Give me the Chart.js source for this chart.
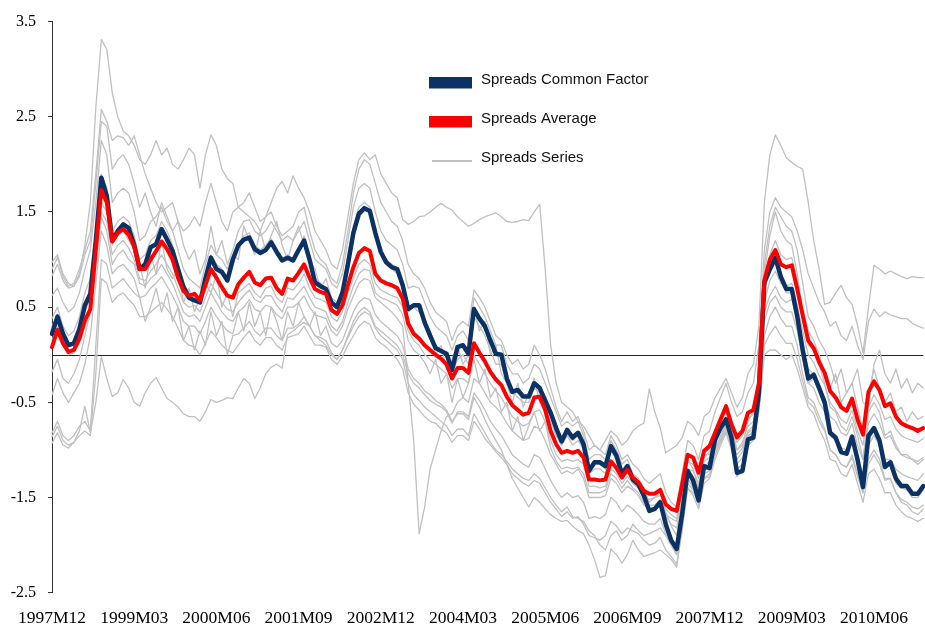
<!DOCTYPE html>
<html><head><meta charset="utf-8">
<script src="https://cdn.jsdelivr.net/npm/chart.js@4.4.0/dist/chart.umd.min.js"></script>
<style>html,body{margin:0;padding:0;background:#fff;}canvas{display:block;}</style>
</head><body>
<canvas id="c" width="925" height="627"></canvas>
<script>
// Categories: monthly, 1997M12 .. 2011M03
const startYear = 1997, startMonth = 12, nMonths = 160;
const months = [];
for (let k = 0; k < nMonths; k++) {
  const m = startMonth - 1 + k;
  months.push((startYear + Math.floor(m / 12)) + 'M' + String(m % 12 + 1).padStart(2, '0'));
}
const xTickLabels = ['1997M12','1999M03','2000M06','2001M09','2002M12','2004M03','2005M06','2006M09','2007M12','2009M03','2010M06'];
const yTicks = [-2.5, -1.5, -0.5, 0.5, 1.5, 2.5, 3.5];

const commonFactor = [
0.22,0.40,0.22,0.10,0.12,0.27,0.52,0.64,1.20,1.86,
1.67,1.20,1.30,1.37,1.33,1.15,0.90,0.95,1.13,1.16,
1.32,1.21,1.09,0.90,0.71,0.60,0.57,0.55,0.80,1.02,
0.90,0.87,0.78,1.00,1.15,1.21,1.23,1.11,1.07,1.10,
1.18,1.08,0.99,1.02,0.99,1.10,1.20,1.00,0.76,0.72,
0.69,0.55,0.50,0.65,0.95,1.28,1.48,1.54,1.51,1.28,
1.08,0.97,0.92,0.90,0.73,0.48,0.52,0.52,0.34,0.20,
0.07,0.04,0.01,-0.16,0.08,0.10,0.01,0.48,0.38,0.30,
0.15,0.01,0.00,-0.25,-0.39,-0.37,-0.44,-0.44,-0.30,-0.35,
-0.48,-0.61,-0.77,-0.91,-0.79,-0.87,-0.82,-0.94,-1.22,-1.13,
-1.13,-1.17,-0.96,-1.06,-1.25,-1.17,-1.31,-1.36,-1.48,-1.64,
-1.62,-1.55,-1.78,-1.95,-2.04,-1.67,-1.22,-1.32,-1.53,-1.17,
-1.19,-0.89,-0.77,-0.68,-0.87,-1.24,-1.22,-0.89,-0.87,-0.40,
0.76,0.90,1.02,0.82,0.69,0.69,0.40,0.05,-0.25,-0.21,
-0.35,-0.50,-0.82,-0.87,-1.02,-1.04,-0.86,-1.10,-1.39,-0.85,
-0.77,-0.90,-1.18,-1.13,-1.30,-1.38,-1.38,-1.46,-1.46,-1.38];

const spreadsAverage = [
0.08,0.26,0.12,0.03,0.05,0.17,0.36,0.48,1.11,1.73,
1.60,1.19,1.28,1.32,1.26,1.14,0.90,0.90,1.00,1.09,
1.19,1.11,1.00,0.81,0.67,0.62,0.64,0.57,0.73,0.90,
0.81,0.71,0.62,0.60,0.74,0.81,0.87,0.76,0.73,0.80,
0.81,0.70,0.64,0.80,0.78,0.86,0.95,0.81,0.69,0.66,
0.64,0.47,0.43,0.52,0.73,0.92,1.07,1.12,1.09,0.85,
0.78,0.75,0.73,0.70,0.59,0.33,0.22,0.17,0.10,0.05,
0.00,-0.04,-0.10,-0.25,-0.14,-0.14,-0.19,0.12,0.02,-0.07,
-0.18,-0.26,-0.32,-0.44,-0.53,-0.58,-0.63,-0.61,-0.45,-0.44,
-0.58,-0.80,-0.94,-1.03,-1.01,-1.03,-1.01,-1.08,-1.31,-1.31,
-1.32,-1.31,-1.12,-1.19,-1.29,-1.21,-1.29,-1.34,-1.43,-1.46,
-1.46,-1.42,-1.57,-1.62,-1.64,-1.36,-1.05,-1.08,-1.24,-1.01,
-0.96,-0.82,-0.68,-0.54,-0.73,-0.87,-0.80,-0.61,-0.58,-0.30,
0.78,1.00,1.10,0.95,0.92,0.94,0.69,0.41,0.15,0.07,
-0.08,-0.19,-0.38,-0.45,-0.55,-0.59,-0.46,-0.68,-0.84,-0.39,
-0.28,-0.37,-0.54,-0.51,-0.65,-0.72,-0.75,-0.77,-0.80,-0.77];

const series01 = [
0.97,1.05,0.85,0.75,0.72,0.85,1.15,1.6,2.6,3.31,
3.21,2.75,2.5,2.35,2.3,2.2,2.05,2.0,2.1,2.25,
2.1,2.17,2.0,1.95,2.05,2.17,2.1,1.75,2.1,2.31,
2.2,1.95,1.85,1.8,1.55,1.5,1.45,1.4,1.3,1.45,
1.6,1.75,1.82,1.7,1.88,1.75,1.65,1.5,1.3,1.2,
1.1,0.95,0.9,1.1,1.45,1.8,2.05,2.12,2.05,2.1,
1.9,1.8,1.7,1.65,1.42,1.37,1.4,1.45,1.46,1.5,
1.55,1.59,1.55,1.52,1.45,1.4,1.35,1.38,1.42,1.45,
1.47,1.49,1.45,1.4,1.39,1.4,1.42,1.41,1.5,1.58,
0.9,0.1,-0.3,-0.5,-0.55,-0.6,-0.7,-0.75,-0.85,-0.95,
-1.0,-0.9,-0.8,-0.85,-0.95,-0.9,-0.8,-0.75,-0.72,-0.36,
-0.6,-0.77,-1.03,-0.99,-0.95,-0.87,-0.7,-0.75,-0.85,-0.65,
-0.6,-0.45,-0.35,-0.25,-0.4,-0.55,-0.45,-0.2,-0.1,0.3,
1.6,2.1,2.31,2.2,2.07,2.02,1.98,1.95,1.6,1.2,
0.9,0.53,0.55,0.65,0.73,0.6,0.53,0.31,0.02,0.5,
0.94,0.9,0.85,0.88,0.85,0.82,0.8,0.82,0.81,0.81];

const series02 = [
0.90,1.02,0.82,0.72,0.75,0.9,1.1,1.3,1.9,2.58,
2.45,2.25,2.3,2.28,2.2,2.3,2.1,1.9,1.75,1.6,
1.5,1.55,1.6,1.4,1.3,1.35,1.45,1.35,1.6,1.8,
1.6,1.4,1.3,1.5,1.55,1.6,1.7,1.55,1.4,1.45,
1.5,1.35,1.25,1.3,1.35,1.5,1.55,1.3,1.1,1.0,
0.95,0.8,0.75,0.95,1.3,1.7,1.95,2.05,2.0,1.8,
1.6,1.5,1.4,1.35,1.2,0.95,0.85,0.8,0.7,0.55,
0.45,0.4,0.35,0.15,0.3,0.35,0.3,0.68,0.6,0.5,
0.35,0.2,0.15,0.0,-0.1,-0.05,-0.15,-0.1,0.1,0.0,
-0.15,-0.35,-0.55,-0.7,-0.6,-0.7,-0.65,-0.8,-1.0,-0.95,
-1.0,-1.05,-0.85,-0.95,-1.1,-1.05,-1.15,-1.2,-1.3,-1.35,
-1.3,-1.25,-1.45,-1.55,-1.6,-1.25,-0.9,-0.95,-1.1,-0.85,
-0.8,-0.6,-0.45,-0.3,-0.5,-0.65,-0.6,-0.4,-0.3,0.1,
1.1,1.5,1.65,1.55,1.5,1.45,1.3,1.1,0.85,0.7,
0.55,0.45,0.3,0.35,0.2,0.15,0.3,0.1,-0.05,0.35,
0.48,0.4,0.45,0.42,0.4,0.38,0.38,0.33,0.3,0.28];

const series03 = [
0.83,0.95,0.78,0.7,0.72,0.82,1.05,1.2,1.8,2.45,
2.4,1.95,2.05,2.1,2.0,1.8,1.55,1.7,1.5,1.35,
1.6,1.45,1.3,1.4,1.15,1.0,1.1,0.85,1.0,1.35,
1.05,1.2,0.95,1.1,1.3,1.4,1.42,1.3,1.25,1.3,
1.4,1.3,1.2,1.25,1.2,1.3,1.4,1.2,1.0,0.95,
0.9,0.75,0.7,0.85,1.2,1.55,1.75,1.8,1.75,1.5,
1.3,1.2,1.15,1.1,0.95,0.7,0.72,0.7,0.55,0.4,
0.3,0.25,0.2,0.05,0.2,0.25,0.15,0.6,0.5,0.4,
0.25,0.1,0.1,-0.1,-0.2,-0.2,-0.3,-0.25,-0.1,-0.15,
-0.3,-0.45,-0.6,-0.75,-0.7,-0.75,-0.7,-0.85,-1.1,-1.05,
-1.05,-1.1,-0.9,-1.0,-1.15,-1.1,-1.25,-1.3,-1.4,-1.55,
-1.5,-1.45,-1.65,-1.8,-1.9,-1.5,-1.1,-1.2,-1.4,-1.05,
-1.05,-0.8,-0.65,-0.55,-0.75,-1.0,-0.95,-0.7,-0.6,-0.2,
0.95,1.35,1.55,1.45,1.35,1.3,1.1,0.75,0.4,0.3,
0.15,0.05,-0.1,-0.3,-0.15,-0.4,-0.3,-0.15,-0.5,-0.55,
-0.1,0.05,-0.2,-0.3,-0.15,-0.35,-0.25,-0.4,-0.3,-0.35];

const series04 = [
0.62,0.7,0.55,0.45,0.5,0.65,0.9,1.1,1.6,2.25,
2.1,1.6,1.7,1.75,1.7,1.5,1.2,1.25,1.4,1.45,
1.55,1.4,1.3,1.1,0.9,0.8,0.75,0.7,0.95,1.15,
1.05,1.0,0.9,1.05,1.0,1.35,1.2,1.05,1.3,1.1,
1.25,1.4,1.15,1.0,1.2,1.35,1.15,1.0,0.9,0.7,
0.8,0.6,0.55,0.7,1.05,1.35,1.55,1.6,1.55,1.3,
1.1,1.0,0.95,0.9,0.75,0.5,0.5,0.45,0.35,0.25,
0.1,0.05,0.0,-0.2,-0.05,0.0,-0.1,0.4,0.3,0.2,
0.05,-0.1,-0.1,-0.3,-0.4,-0.45,-0.5,-0.5,-0.35,-0.4,
-0.55,-0.7,-0.85,-0.95,-0.85,-0.95,-0.9,-1.0,-1.25,-1.2,
-1.2,-1.25,-1.0,-1.1,-1.3,-1.2,-1.35,-1.4,-1.5,-1.65,
-1.6,-1.55,-1.8,-2.0,-2.1,-1.75,-1.3,-1.4,-1.55,-1.2,
-1.2,-0.9,-0.75,-0.65,-0.9,-1.2,-1.15,-0.85,-0.8,-0.35,
0.85,1.25,1.5,1.3,1.2,1.15,0.85,0.45,0.1,0.05,
-0.1,-0.3,-0.55,-0.6,-0.75,-0.8,-0.65,-0.85,-1.1,-0.6,
-0.5,-0.6,-0.85,-0.8,-0.95,-1.05,-1.05,-1.1,-1.15,-1.1];

const series05 = [
0.38,0.5,0.3,0.2,0.25,0.4,0.65,0.8,1.3,1.9,
1.75,1.3,1.4,1.45,1.4,1.25,1.0,1.05,1.2,1.25,
1.4,1.3,1.15,0.95,0.75,0.65,0.6,0.6,0.85,1.05,
0.95,0.9,0.8,1.0,1.15,1.25,1.28,1.15,1.1,1.15,
1.22,1.1,1.0,1.05,1.0,1.1,1.25,1.05,0.8,0.75,
0.7,0.55,0.5,0.65,0.95,1.3,1.5,1.55,1.5,1.25,
1.05,0.95,0.9,0.85,0.7,0.45,0.5,0.5,0.3,0.25,
0.0,0.1,-0.15,-0.05,0.1,-0.1,0.0,0.5,0.25,0.35,
0.0,0.1,-0.2,-0.3,-0.5,-0.3,-0.55,-0.4,-0.25,-0.5,
-0.45,-0.65,-0.8,-0.95,-0.85,-0.9,-0.85,-0.95,-1.25,-1.15,
-1.15,-1.2,-1.0,-1.1,-1.25,-1.2,-1.3,-1.35,-1.5,-1.65,
-1.6,-1.55,-1.8,-1.95,-2.05,-1.7,-1.25,-1.35,-1.55,-1.2,
-1.2,-0.9,-0.78,-0.7,-0.9,-1.25,-1.2,-0.9,-0.88,-0.45,
0.7,0.85,0.98,0.8,0.65,0.65,0.35,0.0,-0.3,-0.25,
-0.4,-0.55,-0.85,-0.9,-1.05,-1.05,-0.9,-1.15,-1.42,-0.9,
-0.8,-0.95,-1.2,-1.15,-1.35,-1.4,-1.42,-1.5,-1.5,-1.42];

const series06 = [
0.3,0.42,0.2,0.1,0.15,0.25,0.45,0.6,1.1,1.6,
1.5,1.15,1.25,1.3,1.2,1.1,0.95,0.7,1.05,0.85,
1.2,0.9,0.8,0.9,0.55,0.7,0.45,0.6,0.75,0.65,
0.85,0.5,0.65,0.4,0.65,0.7,0.75,0.65,0.6,0.7,
0.72,0.6,0.55,0.7,0.68,0.75,0.85,0.7,0.6,0.58,
0.55,0.4,0.35,0.45,0.65,0.8,0.95,1.0,0.95,0.75,
0.68,0.65,0.62,0.6,0.5,0.25,0.15,0.1,0.0,-0.05,
-0.1,-0.15,-0.2,-0.35,-0.25,-0.25,-0.3,0.0,-0.1,-0.2,
-0.3,-0.38,-0.45,-0.55,-0.65,-0.7,-0.75,-0.72,-0.6,-0.58,
-0.7,-0.9,-1.05,-1.12,-1.1,-1.12,-1.1,-1.15,-1.38,-1.38,
-1.4,-1.38,-1.2,-1.25,-1.35,-1.28,-1.35,-1.4,-1.5,-1.52,
-1.5,-1.48,-1.62,-1.68,-1.72,-1.45,-1.12,-1.15,-1.3,-1.08,
-1.02,-0.88,-0.75,-0.6,-0.78,-0.92,-0.85,-0.68,-0.62,-0.3,
0.75,1.05,1.2,1.05,1.0,1.02,0.78,0.5,0.25,0.15,
0.0,-0.2,-0.35,-0.2,-0.5,-0.4,-0.3,-0.55,-0.8,-0.4,
-0.15,-0.35,-0.5,-0.4,-0.6,-0.55,-0.7,-0.6,-0.68,-0.65];

const series07 = [
0.15,0.3,0.1,0.0,0.02,0.12,0.3,0.45,0.95,1.5,
1.4,1.05,1.15,1.2,1.12,1.0,0.8,0.78,0.88,0.95,
1.05,0.95,0.85,0.7,0.55,0.5,0.52,0.45,0.6,0.75,
0.65,0.55,0.48,0.45,0.55,0.62,0.68,0.58,0.55,0.62,
0.62,0.52,0.45,0.6,0.58,0.65,0.72,0.6,0.5,0.48,
0.45,0.3,0.25,0.35,0.55,0.72,0.85,0.9,0.88,0.65,
0.6,0.58,0.55,0.52,0.42,0.15,0.05,0.0,-0.08,-0.2,
-0.05,-0.3,-0.2,-0.5,-0.25,-0.45,-0.3,-0.05,-0.3,-0.15,
-0.45,-0.35,-0.6,-0.5,-0.8,-0.65,-0.9,-0.75,-0.6,-0.8,
-0.7,-0.98,-1.12,-1.2,-1.18,-1.2,-1.18,-1.25,-1.45,-1.45,
-1.45,-1.42,-1.25,-1.3,-1.4,-1.32,-1.4,-1.45,-1.55,-1.58,
-1.58,-1.52,-1.68,-1.72,-1.75,-1.5,-1.2,-1.22,-1.35,-1.12,
-1.08,-0.95,-0.8,-0.68,-0.85,-1.0,-0.92,-0.75,-0.7,-0.4,
0.55,0.78,0.88,0.75,0.72,0.75,0.52,0.25,0.0,-0.08,
-0.22,-0.32,-0.5,-0.58,-0.68,-0.72,-0.58,-0.8,-0.95,-0.55,
-0.42,-0.52,-0.68,-0.65,-0.78,-0.85,-0.88,-0.9,-0.92,-0.88];

const series08 = [
-0.18,-0.05,-0.25,-0.3,-0.2,-0.05,0.2,0.45,0.9,1.45,
1.3,0.95,1.05,1.1,1.0,0.95,0.75,0.72,0.8,0.85,
0.95,0.85,0.75,0.6,0.45,0.4,0.42,0.35,0.5,0.65,
0.55,0.45,0.38,0.35,0.45,0.5,0.58,0.48,0.45,0.52,
0.5,0.42,0.38,0.5,0.5,0.55,0.62,0.5,0.42,0.4,
0.38,0.25,0.2,0.3,0.48,0.62,0.75,0.8,0.78,0.6,
0.55,0.5,0.45,0.38,0.3,-0.3,-0.9,-1.88,-1.6,-1.2,
-1.0,-0.8,-0.65,-0.62,-0.5,-0.45,-0.5,-0.25,-0.3,-0.4,
-0.5,-0.55,-0.62,-0.72,-0.8,-0.85,-0.9,-0.88,-0.75,-0.78,
-0.9,-1.05,-1.15,-1.25,-1.22,-1.25,-1.2,-1.3,-1.5,-1.5,
-1.5,-1.48,-1.3,-1.35,-1.45,-1.38,-1.42,-1.48,-1.58,-1.6,
-1.62,-1.55,-1.7,-1.78,-1.82,-1.55,-1.25,-1.28,-1.42,-1.18,
-1.12,-1.0,-0.85,-0.72,-0.9,-1.05,-0.98,-0.8,-0.75,-0.45,
0.45,0.62,0.72,0.6,0.55,0.58,0.38,0.1,-0.15,-0.2,
-0.35,-0.45,-0.65,-0.7,-0.82,-0.85,-0.72,-0.95,-1.1,-0.72,
-0.62,-0.72,-0.88,-0.85,-0.98,-1.05,-1.08,-1.1,-1.12,-1.08];

const series09 = [
-0.42,-0.25,-0.4,-0.5,-0.4,-0.3,-0.1,0.2,0.75,1.3,
1.15,0.85,0.92,0.95,0.88,0.8,0.6,0.62,0.7,0.75,
0.82,0.72,0.62,0.5,0.35,0.3,0.3,0.22,0.35,0.5,
0.4,0.32,0.25,0.22,0.45,0.25,0.55,0.3,0.45,0.2,
0.5,0.35,0.15,0.45,0.3,0.55,0.4,0.3,0.45,0.2,
0.3,0.12,0.08,0.15,0.3,0.45,0.55,0.6,0.58,0.42,
0.35,0.3,0.25,0.2,0.1,-0.15,-0.25,-0.3,-0.38,-0.42,
-0.48,-0.52,-0.58,-0.7,-0.62,-0.62,-0.68,-0.45,-0.55,-0.68,
-0.8,-0.9,-1.0,-1.15,-1.3,-1.4,-1.5,-1.6,-1.5,-1.55,
-1.62,-1.68,-1.72,-1.75,-1.74,-1.8,-1.85,-1.88,-2.0,-2.15,
-2.34,-2.32,-2.04,-2.1,-2.19,-2.1,-1.95,-2.05,-2.12,-2.1,
-2.08,-2.05,-2.1,-2.15,-2.23,-1.8,-1.4,-1.45,-1.55,-1.3,
-1.25,-1.05,-0.9,-0.78,-0.95,-1.1,-1.02,-0.82,-0.78,-0.5,
0.35,0.55,0.62,0.5,0.45,0.45,0.25,-0.05,-0.3,-0.35,
-0.5,-0.6,-0.8,-0.85,-0.98,-1.0,-0.88,-1.1,-1.25,-0.95,
-0.85,-0.95,-1.1,-1.1,-1.2,-1.25,-1.28,-1.3,-1.32,-1.25];

const series10 = [
-0.82,-0.7,-0.85,-0.9,-0.85,-0.75,-0.7,-0.8,0.1,1.0,
0.95,0.7,0.75,0.8,0.72,0.65,0.6,0.35,0.5,0.7,
0.45,0.65,0.35,0.5,0.15,0.3,0.05,0.25,0.1,0.45,
0.2,0.35,0.0,0.2,0.22,0.28,0.35,0.25,0.2,0.28,
0.28,0.2,0.15,0.28,0.28,0.32,0.4,0.3,0.2,0.18,
0.15,0.02,-0.05,0.05,0.18,0.3,0.4,0.45,0.42,0.28,
0.2,0.15,0.1,0.05,-0.05,-0.3,-0.42,-0.48,-0.55,-0.6,
-0.65,-0.7,-0.75,-0.85,-0.78,-0.78,-0.85,-0.62,-0.72,-0.82,
-0.92,-1.0,-1.05,-1.12,-1.2,-1.25,-1.3,-1.32,-1.25,-1.3,
-1.4,-1.5,-1.58,-1.65,-1.6,-1.7,-1.72,-1.75,-1.85,-1.9,
-2.0,-2.05,-1.9,-1.85,-1.95,-1.9,-1.78,-1.85,-1.9,-1.88,
-1.85,-1.82,-1.9,-2.0,-2.08,-1.72,-1.3,-1.38,-1.5,-1.25,
-1.22,-1.0,-0.88,-0.75,-0.92,-1.15,-1.08,-0.85,-0.82,-0.55,
0.2,0.4,0.5,0.38,0.3,0.3,0.1,-0.2,-0.45,-0.5,
-0.65,-0.78,-1.0,-1.05,-1.15,-1.18,-1.05,-1.25,-1.45,-1.1,
-1.0,-1.1,-1.3,-1.3,-1.45,-1.55,-1.58,-1.65,-1.68,-1.62];

const series11 = [
-0.86,-0.75,-0.9,-0.95,-0.92,-0.85,-0.8,-0.85,-0.2,0.8,
0.75,0.55,0.62,0.65,0.58,0.52,0.4,0.4,0.45,0.5,
0.55,0.48,0.4,0.28,0.15,0.1,0.08,0.0,0.12,0.25,
0.18,0.1,0.05,0.02,0.1,0.18,0.25,0.15,0.1,0.18,
0.18,0.1,0.05,0.18,0.2,0.22,0.3,0.2,0.1,0.1,
0.08,-0.05,-0.1,-0.02,0.1,0.2,0.3,0.35,0.32,0.18,
0.12,0.08,0.02,-0.05,-0.15,-0.4,-0.52,-0.58,-0.65,-0.7,
-0.72,-0.78,-0.82,-0.92,-0.85,-0.85,-0.9,-0.7,-0.78,-0.88,
-0.95,-1.02,-1.08,-1.15,-1.25,-1.3,-1.35,-1.38,-1.32,-1.35,
-1.45,-1.55,-1.62,-1.7,-1.65,-1.72,-1.7,-1.78,-1.9,-1.92,
-1.95,-1.9,-1.75,-1.8,-1.88,-1.82,-1.85,-1.88,-1.95,-2.0,
-1.98,-1.92,-2.05,-2.12,-2.2,-1.85,-1.4,-1.48,-1.62,-1.35,
-1.3,-1.1,-0.95,-0.82,-1.0,-1.28,-1.2,-0.95,-0.9,-0.6,
0.0,0.05,0.05,0.0,-0.05,0.0,-0.15,-0.35,-0.55,-0.62,
-0.78,-0.9,-1.1,-1.12,-1.25,-1.28,-1.15,-1.35,-1.55,-1.25,
-1.2,-1.3,-1.45,-1.45,-1.58,-1.65,-1.7,-1.72,-1.75,-1.72];

const series12 = [
-0.93,-0.82,-0.95,-0.98,-0.92,-0.8,-0.54,-0.82,-0.5,-0.02,
-0.25,-0.44,-0.4,-0.26,-0.35,-0.5,-0.54,-0.4,-0.3,-0.24,
-0.35,-0.46,-0.5,-0.55,-0.62,-0.65,-0.65,-0.7,-0.6,-0.47,
-0.5,-0.48,-0.45,-0.46,-0.35,-0.25,-0.3,-0.46,-0.35,-0.2,
-0.13,-0.1,-0.14,0.21,0.25,0.3,0.34,0.3,0.2,0.15,
0.1,0.0,-0.05,0.05,0.2,0.35,0.45,0.5,0.45,0.3,
0.25,0.2,0.15,0.1,0.0,-0.2,-0.3,-0.35,-0.42,-0.48,
-0.52,-0.55,-0.6,-0.72,-0.6,-0.6,-0.65,-0.4,-0.48,-0.58,
-0.7,-0.78,-0.85,-0.95,-1.05,-1.1,-1.15,-1.18,-1.05,-1.08,
-1.2,-1.32,-1.42,-1.5,-1.45,-1.5,-1.48,-1.55,-1.72,-1.7,
-1.72,-1.68,-1.5,-1.55,-1.65,-1.58,-1.62,-1.68,-1.75,-1.78,
-1.78,-1.72,-1.88,-2.0,-2.1,-1.75,-1.35,-1.42,-1.58,-1.3,
-1.28,-1.05,-0.92,-0.8,-0.98,-1.2,-1.15,-0.9,-0.85,-0.58,
0.1,0.22,0.3,0.2,0.12,0.12,-0.05,-0.28,-0.5,-0.55,
-0.7,-0.8,-1.0,-1.05,-1.15,-1.18,-1.08,-1.28,-1.45,-1.15,
-1.05,-1.15,-1.32,-1.3,-1.45,-1.52,-1.55,-1.6,-1.62,-1.58];

const spreadSeries = [series01, series02, series03, series04, series05, series06,
  series07, series08, series09, series10, series11, series12];

const NAVY = '#0a3264', RED = '#ff0000', GREY = '#c0c0c0';

const datasets = [
  { label: 'Spreads Average', data: spreadsAverage, borderColor: RED, borderWidth: 4, order: 0 },
  { label: 'Spreads Common Factor', data: commonFactor, borderColor: NAVY, borderWidth: 4.5, order: 1 }
];
spreadSeries.forEach((s, i) => datasets.push({
  label: i === 0 ? 'Spreads Series' : '', data: s, borderColor: GREY, borderWidth: 1.3, order: 2
}));

const zeroLine = {
  id: 'zeroLine',
  beforeDatasetsDraw(chart) {
    const ctx = chart.ctx, a = chart.chartArea;
    const y = Math.round(chart.scales.y.getPixelForValue(0)) + 0.5;
    ctx.save();
    ctx.strokeStyle = '#222'; ctx.lineWidth = 1;
    ctx.beginPath(); ctx.moveTo(a.left, y); ctx.lineTo(a.right, y); ctx.stroke();
    ctx.restore();
  }
};

const customLegend = {
  id: 'customLegend',
  afterDraw(chart) {
    const ctx = chart.ctx;
    const ds = chart.data.datasets;
    const items = [
      { d: ds[1], type: 'box', y: 83 },
      { d: ds[0], type: 'box', y: 122 },
      { d: ds[2], type: 'line', y: 161 }
    ];
    ctx.save();
    items.forEach(it => {
      ctx.fillStyle = it.d.borderColor;
      ctx.strokeStyle = it.d.borderColor;
      if (it.type === 'box') {
        ctx.fillRect(429, it.y - 6, 43, 11.5);
      } else {
        ctx.lineWidth = 2.2;
        ctx.beginPath(); ctx.moveTo(432, it.y); ctx.lineTo(472, it.y); ctx.stroke();
      }
      ctx.fillStyle = '#111';
      ctx.font = '15px "Liberation Sans", Arial, sans-serif';
      ctx.textBaseline = 'middle';
      ctx.textAlign = 'left';
      ctx.fillText(it.d.label, 481, it.y - 3);
    });
    ctx.restore();
  }
};

new Chart(document.getElementById('c'), {
  type: 'line',
  data: { labels: months, datasets },
  options: {
    responsive: false,
    animation: false,
    events: [],
    layout: { padding: { top: 17.5, right: 0, bottom: 0, left: 0 } },
    elements: {
      point: { radius: 0 },
      line: { tension: 0, borderJoinStyle: 'round', borderCapStyle: 'round', fill: false }
    },
    plugins: { legend: { display: false }, tooltip: { enabled: false } },
    scales: {
      x: {
        type: 'category',
        grid: { display: false, drawTicks: false },
        border: { display: false },
        ticks: {
          autoSkip: false, maxRotation: 0, minRotation: 0, padding: 17, color: '#000',
          font: { family: '"Liberation Serif", "Times New Roman", serif', size: 17.5, lineHeight: 1 }
        },
        afterBuildTicks: s => { s.ticks = s.ticks.filter(t => xTickLabels.includes(months[t.value])); },
        afterFit: s => { s.height = 34.3; }
      },
      y: {
        min: -2.5, max: 3.5,
        afterBuildTicks: s => { s.ticks = yTicks.map(v => ({ value: v })); },
        grid: { display: true, drawOnChartArea: false, drawTicks: true, tickLength: 4, color: '#333', tickColor: '#333' },
        border: { display: true, color: '#333', width: 1 },
        ticks: {
          padding: 12, color: '#000',
          font: { family: '"Liberation Serif", "Times New Roman", serif', size: 16 },
          callback: v => Number(v).toFixed(1)
        },
        afterFit: s => { s.width = 52; }
      }
    }
  },
  plugins: [zeroLine, customLegend]
});
</script>
</body></html>
